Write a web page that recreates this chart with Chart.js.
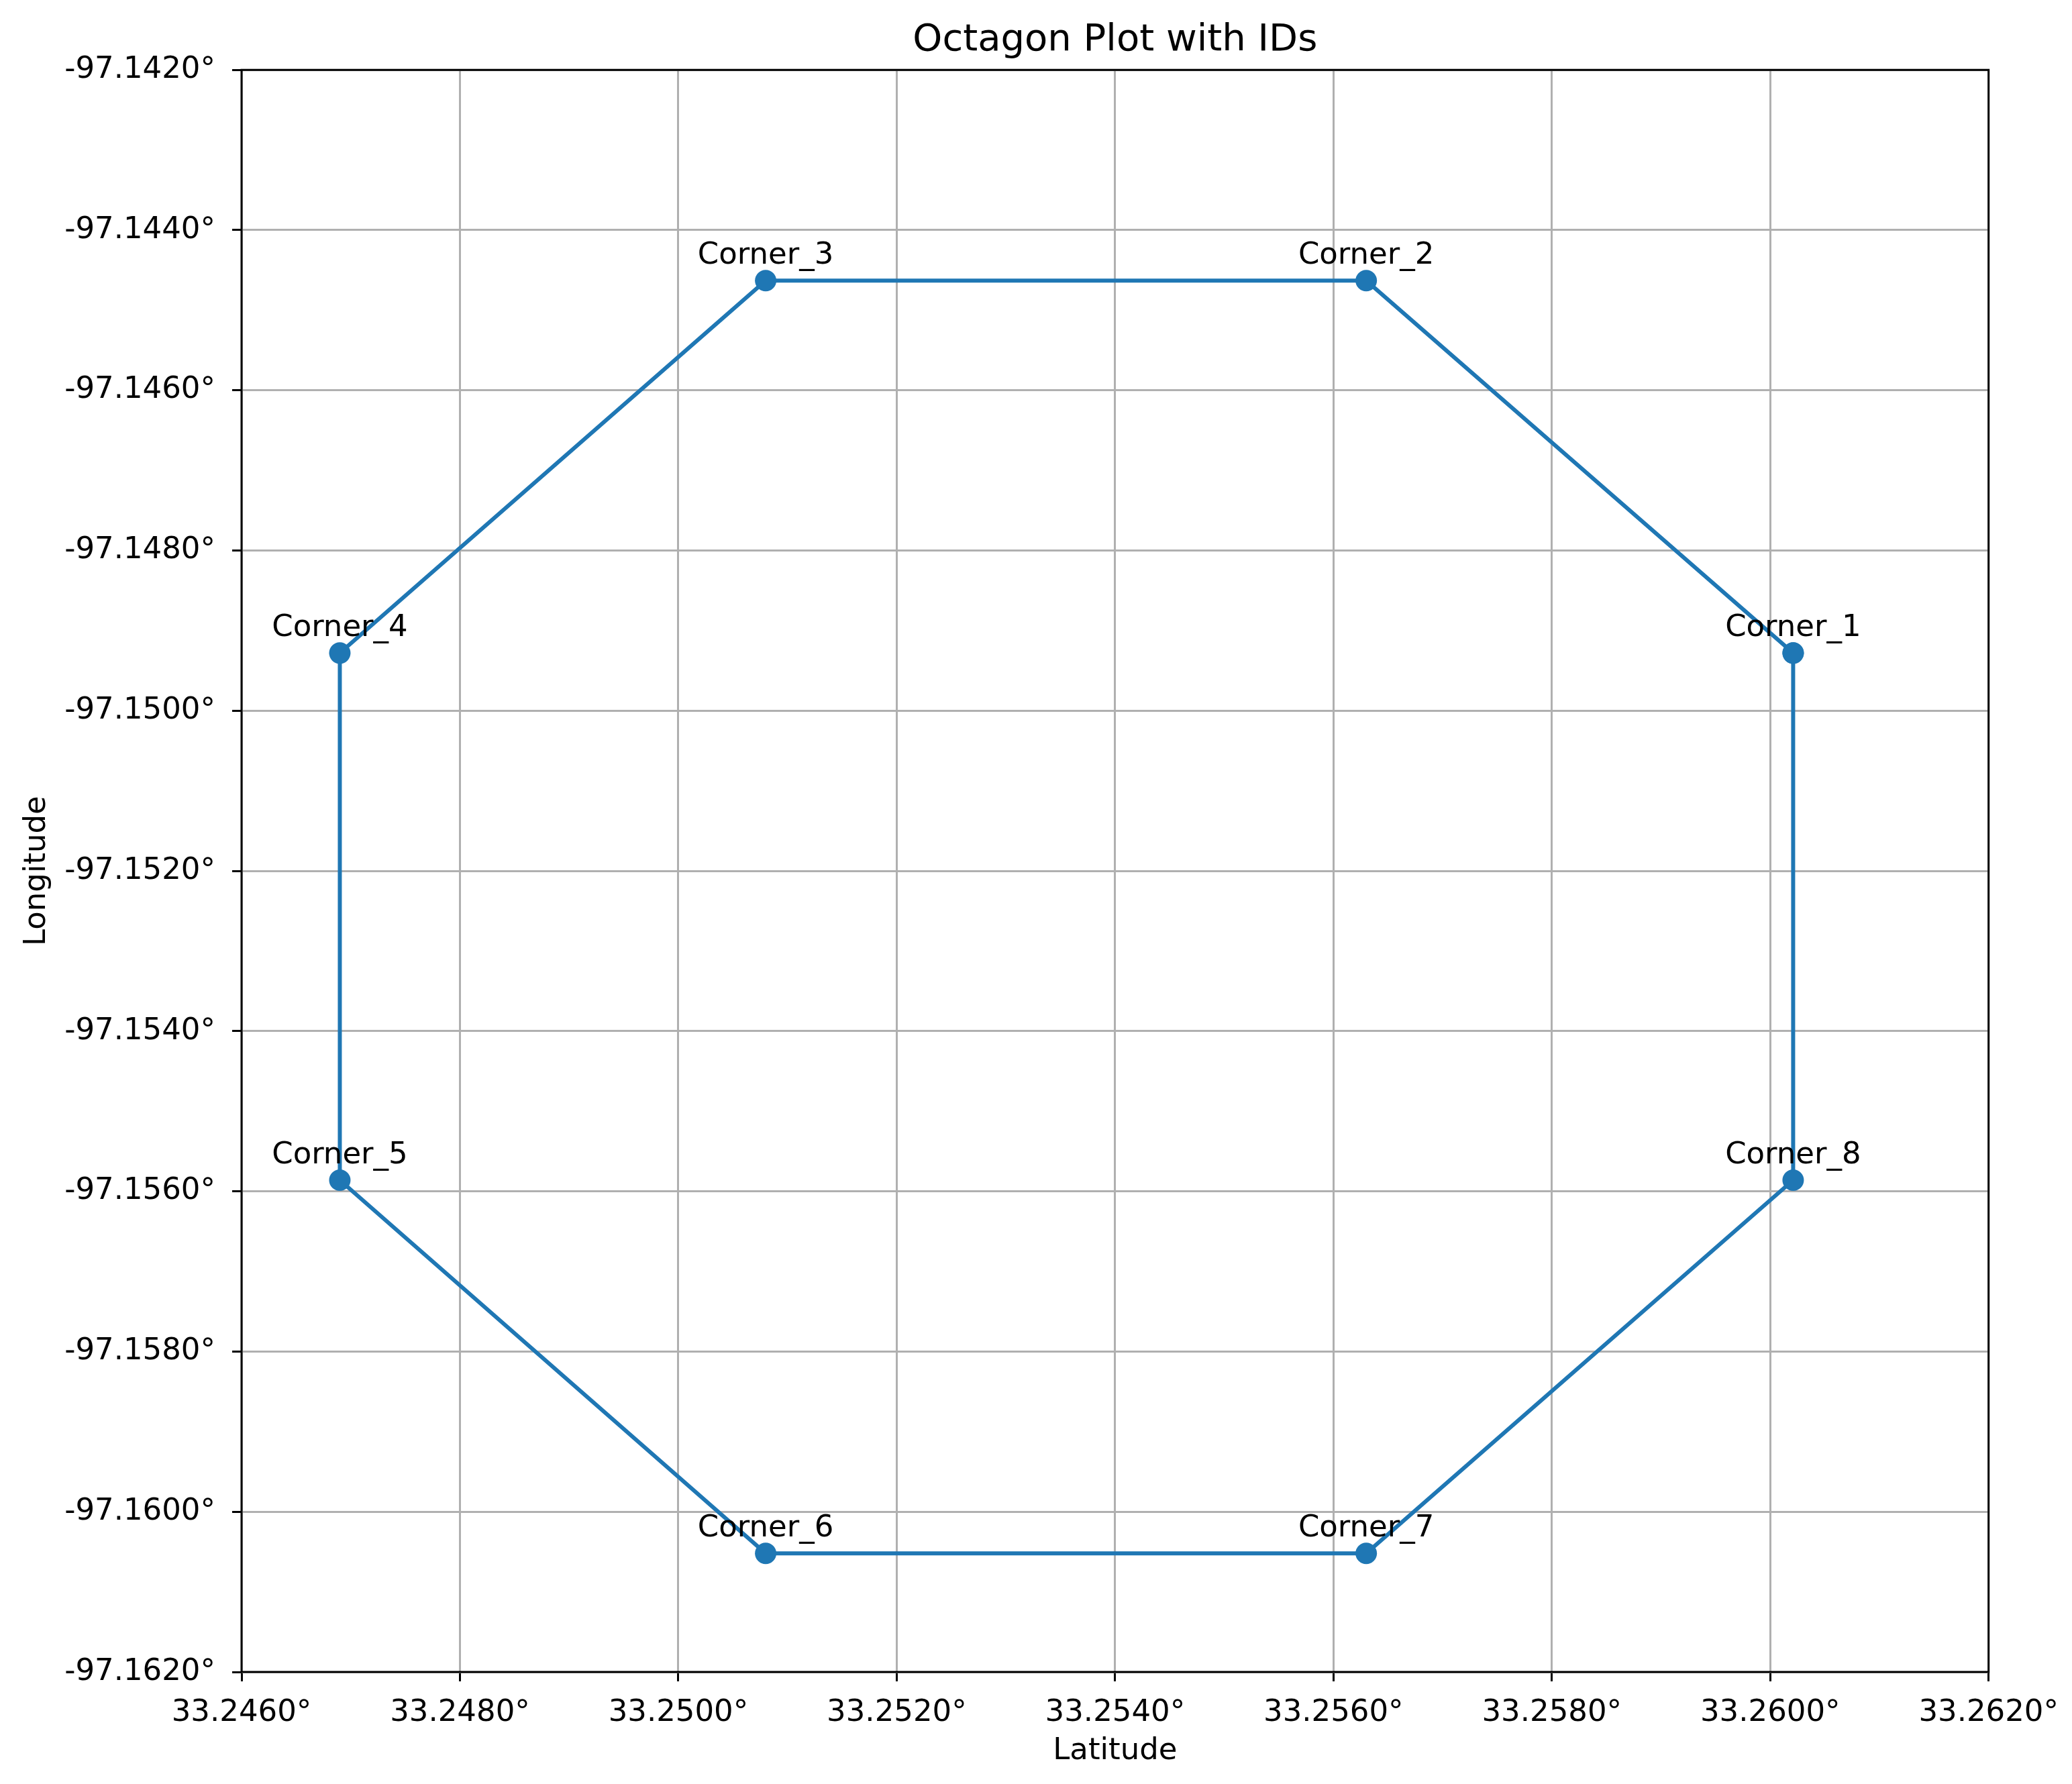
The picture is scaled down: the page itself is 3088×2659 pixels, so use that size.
<!DOCTYPE html>
<html>
<head>
<meta charset="utf-8">
<title>Octagon Plot with IDs</title>
<script src="https://cdn.jsdelivr.net/npm/chart.js@4/dist/chart.umd.min.js"></script>
<style>
    html, body { margin: 0; padding: 0; background: #fff; }
    #wrap { width: 3088px; height: 2659px; position: relative; }
</style>
</head>
<body>
<div id="wrap"><canvas id="octagonChart"></canvas></div>
<script>
// corner ids and coordinates (closed ring: first point repeated at the end)
const cornerIds = ['Corner_1', 'Corner_2', 'Corner_3', 'Corner_4', 'Corner_5', 'Corner_6', 'Corner_7', 'Corner_8'];
const latitudes = [33.26021, 33.25630, 33.25080, 33.24690, 33.24690, 33.25080, 33.25630, 33.26021, 33.26021];
const longitudes = [-97.14928, -97.14463, -97.14463, -97.14928, -97.15586, -97.16052, -97.16052, -97.15586, -97.14928];

// axis ticks
const latTicks = [33.246, 33.248, 33.250, 33.252, 33.254, 33.256, 33.258, 33.260, 33.262];
const lonTicks = [-97.162, -97.160, -97.158, -97.156, -97.154, -97.152, -97.150, -97.148, -97.146, -97.144, -97.142];

const FONT = "'DejaVu Sans', sans-serif";
const BLUE = '#1f77b4';

// draws the full axes box like matplotlib spines
const spinesPlugin = {
    id: 'spines',
    beforeDatasetsDraw(chart) {
        const { ctx, chartArea: a } = chart;
        ctx.save();
        ctx.strokeStyle = '#000';
        ctx.lineWidth = 3;
        ctx.strokeRect(a.left, a.top, a.right - a.left, a.bottom - a.top);
        ctx.restore();
    }
};

// corner id text above each point
const cornerLabelPlugin = {
    id: 'cornerLabels',
    afterDatasetsDraw(chart) {
        const { ctx, scales } = chart;
        ctx.save();
        ctx.font = '45px ' + FONT;
        ctx.fillStyle = '#000';
        ctx.textAlign = 'center';
        ctx.textBaseline = 'alphabetic';
        cornerIds.forEach((id, i) => {
            const x = scales.x.getPixelForValue(latitudes[i]);
            const y = scales.y.getPixelForValue(longitudes[i]);
            ctx.fillText(id, x, y - 25);
        });
        ctx.restore();
    }
};

const points = latitudes.map((lat, i) => ({ x: lat, y: longitudes[i] }));

const ctx = document.getElementById('octagonChart').getContext('2d');
new Chart(ctx, {
    type: 'scatter',
    data: {
        datasets: [{
            label: 'Octagon',
            data: points,
            showLine: true,
            borderColor: BLUE,
            backgroundColor: BLUE,
            borderWidth: 6,
            pointRadius: 16,
            pointBorderWidth: 0,
            pointHoverRadius: 16,
            tension: 0
        }]
    },
    options: {
        responsive: true,
        maintainAspectRatio: false,
        animation: false,
        devicePixelRatio: 1,
        layout: {
            padding: { left: 0, right: 123, top: 0, bottom: 0 }
        },
        plugins: {
            legend: { display: false },
            tooltip: { enabled: false },
            title: {
                display: true,
                fullSize: false,
                text: 'Octagon Plot with IDs',
                color: '#000',
                font: { family: FONT, size: 56, weight: 'normal', lineHeight: 1.2 },
                padding: { top: 27, bottom: 10 }
            }
        },
        scales: {
            x: {
                type: 'linear',
                position: 'bottom',
                min: 33.246,
                max: 33.262,
                afterBuildTicks(scale) {
                    scale.ticks = latTicks.map(v => ({ value: v }));
                },
                afterFit(scale) {
                    scale.height = 167;
                },
                border: { display: false },
                grid: {
                    color: '#b0b0b0',
                    lineWidth: 3,
                    drawTicks: true,
                    tickLength: 14,
                    tickColor: '#000',
                    tickWidth: 3
                },
                ticks: {
                    color: '#000',
                    font: { family: FONT, size: 45 },
                    padding: 20,
                    maxRotation: 0,
                    autoSkip: false,
                    callback: v => v.toFixed(4) + '°'
                },
                title: {
                    display: true,
                    text: 'Latitude',
                    color: '#000',
                    font: { family: FONT, size: 45 },
                    padding: { top: 22, bottom: 22 }
                }
            },
            y: {
                type: 'linear',
                position: 'left',
                min: -97.162,
                max: -97.142,
                afterBuildTicks(scale) {
                    scale.ticks = lonTicks.map(v => ({ value: v }));
                },
                afterFit(scale) {
                    scale.width = 360;
                },
                border: { display: false },
                grid: {
                    color: '#b0b0b0',
                    lineWidth: 3,
                    drawTicks: true,
                    tickLength: 14,
                    tickColor: '#000',
                    tickWidth: 3
                },
                ticks: {
                    color: '#000',
                    font: { family: FONT, size: 45 },
                    padding: 25,
                    autoSkip: false,
                    callback: v => v.toFixed(4) + '°'
                },
                title: {
                    display: true,
                    text: 'Longitude',
                    color: '#000',
                    font: { family: FONT, size: 45 },
                    padding: { top: 28, bottom: 28 }
                }
            }
        }
    },
    plugins: [spinesPlugin, cornerLabelPlugin]
});
</script>
</body>
</html>
